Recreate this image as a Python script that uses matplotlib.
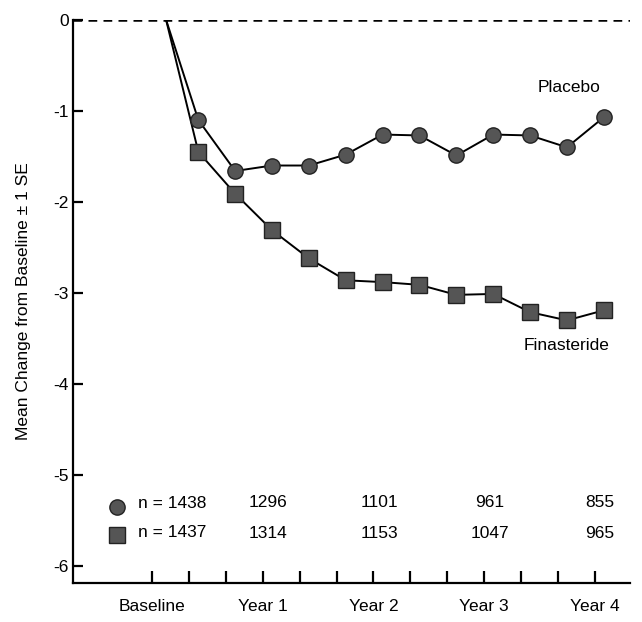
import matplotlib
matplotlib.use("Agg")
import matplotlib.pyplot as plt

plt.rcParams['font.family'] = ['Liberation Sans', 'DejaVu Sans']

# months from randomization
months = [1.5, 5, 9, 13, 17, 21, 25, 29, 33, 37, 41, 45, 49]
placebo = [0, -1.10, -1.66, -1.60, -1.60, -1.48, -1.26, -1.27, -1.49, -1.26, -1.27, -1.40, -1.07]
finasteride = [0, -1.45, -1.91, -2.31, -2.62, -2.86, -2.88, -2.91, -3.02, -3.01, -3.21, -3.30, -3.19]

tick_months = [0, 4, 8, 12, 16, 20, 24, 28, 32, 36, 40, 44, 48]
year_months = [0, 12, 24, 36, 48]
year_labels = ['Baseline', 'Year 1', 'Year 2', 'Year 3', 'Year 4']

n_placebo = [1438, 1296, 1101, 961, 855]
n_finasteride = [1437, 1314, 1153, 1047, 965]

fig = plt.figure(figsize=(6.42, 6.22), dpi=100)
ax = fig.add_axes([0.1137, 0.0632, 0.867, 0.905])

marker_fc = '#555555'
ax.axhline(0, color='black', lw=1.8, ls=(0, (3.5, 2.5)), zorder=1)

ax.plot(months, placebo, color='black', lw=1.4, zorder=2)
ax.plot(months[1:], placebo[1:], 'o', ms=11, mfc=marker_fc, mec='#222222', mew=1.0, zorder=3)
ax.plot(months, finasteride, color='black', lw=1.4, zorder=2)
ax.plot(months[1:], finasteride[1:], 's', ms=11, mfc=marker_fc, mec='#222222', mew=1.0, zorder=3)

ax.text(45.2, -0.74, 'Placebo', fontsize=12.5, ha='center', va='center')
ax.text(45.0, -3.58, 'Finasteride', fontsize=12.5, ha='center', va='center')

# sample sizes
ax.plot([-3.8], [-5.35], 'o', ms=11, mfc=marker_fc, mec='#222222', mew=1.0, clip_on=False)
ax.plot([-3.8], [-5.66], 's', ms=11, mfc=marker_fc, mec='#222222', mew=1.0, clip_on=False)
ax.text(-1.6, -5.31, f'n = {n_placebo[0]}', fontsize=12.5, ha='left', va='center')
ax.text(-1.6, -5.63, f'n = {n_finasteride[0]}', fontsize=12.5, ha='left', va='center')
for m, a, b in zip(year_months[1:], n_placebo[1:], n_finasteride[1:]):
    ax.text(m + 0.6, -5.30, str(a), fontsize=12.5, ha='center', va='center')
    ax.text(m + 0.6, -5.64, str(b), fontsize=12.5, ha='center', va='center')

ax.set_xlim(-8.6, 51.8)
ax.set_ylim(-6.18, 0)

ax.set_xticks(year_months)
ax.set_xticklabels(year_labels, fontsize=12.5)
ax.set_xticks(tick_months, minor=True)
ax.tick_params(axis='x', which='both', direction='in', length=9, width=1.6, pad=12)

ax.set_yticks([0, -1, -2, -3, -4, -5, -6])
ax.set_yticklabels(['0', '-1', '-2', '-3', '-4', '-5', '-6'], fontsize=12.5)
ax.tick_params(axis='y', direction='in', length=7, width=1.6, pad=3)
ax.set_ylabel('Mean Change from Baseline \u00b1 1 SE', fontsize=12.5, labelpad=16)

for side in ['top', 'right']:
    ax.spines[side].set_visible(False)
for side in ['left', 'bottom']:
    ax.spines[side].set_linewidth(1.6)

fig.savefig('out.png', dpi=100)
